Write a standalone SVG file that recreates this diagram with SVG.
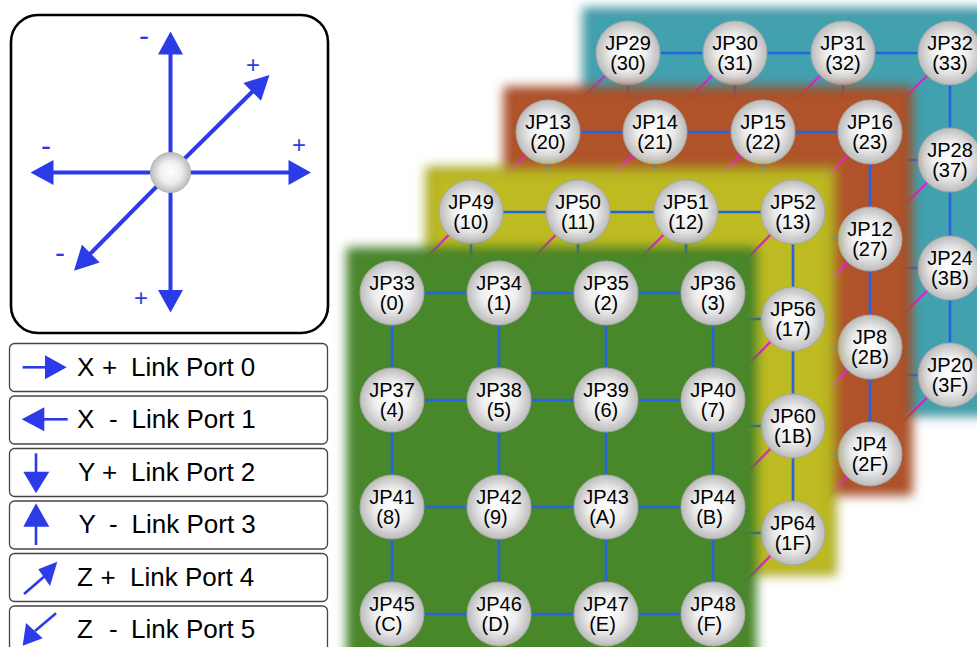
<svg xmlns="http://www.w3.org/2000/svg" width="977" height="647" viewBox="0 0 977 647">
  <defs>
    <style>
      .node circle { fill: url(#ball); stroke: #a9a9a9; stroke-width: 1; }
      .node text { font-family: "Liberation Sans", Arial, sans-serif; font-size: 20px; fill: #000; text-anchor: middle; }
      .grid { stroke: #2563df; stroke-width: 2.6; fill: none; }
      .zlink { stroke: #e41fd2; stroke-width: 2.2; fill: none; }
      .arr { stroke: #2b3be8; stroke-width: 4; fill: none; }
      .arr-small { stroke: #2b3be8; stroke-width: 2.6; fill: none; }
      .head { fill: #2b3be8; }
      .sign { font-family: "Liberation Sans", Arial, sans-serif; font-size: 24px; fill: #2b3be8; text-anchor: middle; }
      .sign.minus { font-size: 30px; }
      .key { fill: #fff; stroke: #444; stroke-width: 1.3; }
      .key-text { font-family: "Liberation Sans", Arial, sans-serif; font-size: 26px; fill: #000; }
      .plane { filter: url(#soft); stroke-width: 7; }
    </style>
    <radialGradient id="ball" cx="50%" cy="50%" r="50%" fx="50%" fy="47%">
      <stop offset="0" stop-color="#ffffff"/>
      <stop offset="0.55" stop-color="#eeeeee"/>
      <stop offset="1" stop-color="#bcbcbc"/>
    </radialGradient>
    <filter id="soft" x="-10%" y="-10%" width="120%" height="120%">
      <feGaussianBlur stdDeviation="5.5"/>
    </filter>
  </defs>

  <rect width="977" height="647" fill="#fff"/>

  <!-- axis compass -->
  <g id="compass">
    <rect x="11" y="15" width="317" height="318" rx="27" fill="#fff" stroke="#000" stroke-width="2.6"/>
    <line class="arr" x1="170.5" y1="172.5" x2="170.5" y2="52"/>
    <polygon class="head" points="170.5,31.5 158,54.5 183,54.5"/>
    <line class="arr" x1="170.5" y1="172.5" x2="290" y2="172.5"/>
    <polygon class="head" points="311,172.5 288.5,160 288.5,185"/>
    <line class="arr" x1="170.5" y1="172.5" x2="52" y2="172.5"/>
    <polygon class="head" points="30.5,172.5 53.5,160 53.5,185"/>
    <line class="arr" x1="170.5" y1="172.5" x2="170.5" y2="292"/>
    <polygon class="head" points="170.5,312.5 158,290 183,290"/>
    <line class="arr" x1="170.5" y1="172.5" x2="253" y2="91"/>
    <polygon class="head" points="269.5,75 243.4,82.9 261,100.7"/>
    <line class="arr" x1="170.5" y1="172.5" x2="90" y2="254"/>
    <polygon class="head" points="74,270.7 81.9,244.8 99.7,262.4"/>
    <circle cx="170.5" cy="172.5" r="20" fill="url(#ball)" stroke="#b5b5b5" stroke-width="1"/>
    <text class="sign minus" x="144" y="46">-</text>
    <text class="sign" x="253" y="72.5">+</text>
    <text class="sign" x="299" y="152.5">+</text>
    <text class="sign minus" x="46" y="156">-</text>
    <text class="sign minus" x="60" y="263">-</text>
    <text class="sign" x="141" y="305.5">+</text>
  </g>

  <!-- link port key -->
  <g id="key-port0">
    <rect class="key" x="9.5" y="343.5" width="318" height="48" rx="5"/>
    <line class="arr-small" x1="22.7" y1="367.3" x2="47" y2="367.3"/>
    <polygon class="head" points="66.7,367.3 45,355.3 45,379.3"/>
    <text class="key-text" y="375.8"><tspan x="77">X</tspan><tspan x="102">+</tspan><tspan x="131">Link Port 0</tspan></text>
  </g>
  <g id="key-port1">
    <rect class="key" x="9.5" y="396" width="318" height="48" rx="5"/>
    <polygon class="head" points="21.7,419.3 44.3,407.3 44.3,431.3"/>
    <line class="arr-small" x1="43" y1="419.3" x2="67.7" y2="419.3"/>
    <text class="key-text" y="428.3"><tspan x="77">X</tspan><tspan x="109">-</tspan><tspan x="131.5">Link Port 1</tspan></text>
  </g>
  <g id="key-port2">
    <rect class="key" x="9.5" y="448.5" width="318" height="48" rx="5"/>
    <line class="arr-small" x1="36" y1="453.3" x2="36" y2="474"/>
    <polygon class="head" points="36,493.3 23.3,471.7 49.3,471.7"/>
    <text class="key-text" y="480.8"><tspan x="78">Y</tspan><tspan x="102">+</tspan><tspan x="131">Link Port 2</tspan></text>
  </g>
  <g id="key-port3">
    <rect class="key" x="9.5" y="501" width="318" height="48" rx="5"/>
    <polygon class="head" points="36,503.3 23.3,526.7 49.3,526.7"/>
    <line class="arr-small" x1="36" y1="525" x2="36" y2="545"/>
    <text class="key-text" y="533.3"><tspan x="78.5">Y</tspan><tspan x="109">-</tspan><tspan x="131.5">Link Port 3</tspan></text>
  </g>
  <g id="key-port4">
    <rect class="key" x="9.5" y="553.5" width="318" height="48" rx="5"/>
    <line class="arr-small" x1="24" y1="594" x2="46" y2="575"/>
    <polygon class="head" points="57.3,561.7 38.3,569.3 50,586"/>
    <text class="key-text" y="585.8"><tspan x="77">Z</tspan><tspan x="100.5">+</tspan><tspan x="130">Link Port 4</tspan></text>
  </g>
  <g id="key-port5">
    <rect class="key" x="9.5" y="606" width="318" height="48" rx="5"/>
    <line class="arr-small" x1="56" y1="613.3" x2="35" y2="631"/>
    <polygon class="head" points="22.7,645.7 26,623 42.7,638.3"/>
    <text class="key-text" y="638.3"><tspan x="77">Z</tspan><tspan x="109">-</tspan><tspan x="131">Link Port 5</tspan></text>
  </g>

  <!-- plane z=3 (teal) -->
  <rect id="plane-teal" class="plane" x="586" y="11" width="410" height="402" fill="#43a1af" stroke="#3c93a0"/>
  <g id="connectors-teal">
    <path class="grid" d="M628 53H950M628 160H950M628 268H950M628 375H950M628 53V375M735 53V375M843 53V375M950 53V375"/>
    <path class="zlink" d="M548 132L628 53M655 132L735 53M763 132L843 53M870 132L950 53M870 239L950 160M870 347L950 268M870 454L950 375"/>
  </g>
  <g id="jp29" class="node"><circle cx="628" cy="53" r="32"/><text><tspan x="628" y="50">JP29</tspan><tspan x="628" y="70">(30)</tspan></text></g>
  <g id="jp30" class="node"><circle cx="735" cy="53" r="32"/><text><tspan x="735" y="50">JP30</tspan><tspan x="735" y="70">(31)</tspan></text></g>
  <g id="jp31" class="node"><circle cx="843" cy="53" r="32"/><text><tspan x="843" y="50">JP31</tspan><tspan x="843" y="70">(32)</tspan></text></g>
  <g id="jp32" class="node"><circle cx="950" cy="53" r="32"/><text><tspan x="950" y="50">JP32</tspan><tspan x="950" y="70">(33)</tspan></text></g>
  <g id="jp28" class="node"><circle cx="950" cy="160" r="32"/><text><tspan x="950" y="157">JP28</tspan><tspan x="950" y="177">(37)</tspan></text></g>
  <g id="jp24" class="node"><circle cx="950" cy="268" r="32"/><text><tspan x="950" y="265">JP24</tspan><tspan x="950" y="285">(3B)</tspan></text></g>
  <g id="jp20" class="node"><circle cx="950" cy="375" r="32"/><text><tspan x="950" y="372">JP20</tspan><tspan x="950" y="392">(3F)</tspan></text></g>

  <!-- plane z=2 (red) -->
  <rect id="plane-red" class="plane" x="507" y="90" width="402" height="402" fill="#b0522a" stroke="#a04822"/>
  <g id="connectors-red">
    <path class="grid" d="M548 132H870M548 239H870M548 347H870M548 454H870M548 132V454M655 132V454M763 132V454M870 132V454"/>
    <path class="zlink" d="M471 212L548 132M578 212L655 132M686 212L763 132M793 212L870 132M793 319L870 239M793 426L870 347M793 533L870 454"/>
  </g>
  <g id="jp13" class="node"><circle cx="548" cy="132" r="32"/><text><tspan x="548" y="129">JP13</tspan><tspan x="548" y="149">(20)</tspan></text></g>
  <g id="jp14" class="node"><circle cx="655" cy="132" r="32"/><text><tspan x="655" y="129">JP14</tspan><tspan x="655" y="149">(21)</tspan></text></g>
  <g id="jp15" class="node"><circle cx="763" cy="132" r="32"/><text><tspan x="763" y="129">JP15</tspan><tspan x="763" y="149">(22)</tspan></text></g>
  <g id="jp16" class="node"><circle cx="870" cy="132" r="32"/><text><tspan x="870" y="129">JP16</tspan><tspan x="870" y="149">(23)</tspan></text></g>
  <g id="jp12" class="node"><circle cx="870" cy="239" r="32"/><text><tspan x="870" y="236">JP12</tspan><tspan x="870" y="256">(27)</tspan></text></g>
  <g id="jp8" class="node"><circle cx="870" cy="347" r="32"/><text><tspan x="870" y="344">JP8</tspan><tspan x="870" y="364">(2B)</tspan></text></g>
  <g id="jp4" class="node"><circle cx="870" cy="454" r="32"/><text><tspan x="870" y="451">JP4</tspan><tspan x="870" y="471">(2F)</tspan></text></g>

  <!-- plane z=1 (yellow) -->
  <rect id="plane-yellow" class="plane" x="429" y="170" width="404" height="402" fill="#bdba22" stroke="#aaa71e"/>
  <g id="connectors-yellow">
    <path class="grid" d="M471 212H793M471 319H793M471 426H793M471 533H793M471 212V533M578 212V533M686 212V533M793 212V533"/>
    <path class="zlink" d="M392 293L471 212M499 293L578 212M606 293L686 212M713 293L793 212M713 400L793 319M713 507L793 426M713 614L793 533"/>
  </g>
  <g id="jp49" class="node"><circle cx="471" cy="212" r="32"/><text><tspan x="471" y="209">JP49</tspan><tspan x="471" y="229">(10)</tspan></text></g>
  <g id="jp50" class="node"><circle cx="578" cy="212" r="32"/><text><tspan x="578" y="209">JP50</tspan><tspan x="578" y="229">(11)</tspan></text></g>
  <g id="jp51" class="node"><circle cx="686" cy="212" r="32"/><text><tspan x="686" y="209">JP51</tspan><tspan x="686" y="229">(12)</tspan></text></g>
  <g id="jp52" class="node"><circle cx="793" cy="212" r="32"/><text><tspan x="793" y="209">JP52</tspan><tspan x="793" y="229">(13)</tspan></text></g>
  <g id="jp56" class="node"><circle cx="793" cy="319" r="32"/><text><tspan x="793" y="316">JP56</tspan><tspan x="793" y="336">(17)</tspan></text></g>
  <g id="jp60" class="node"><circle cx="793" cy="426" r="32"/><text><tspan x="793" y="423">JP60</tspan><tspan x="793" y="443">(1B)</tspan></text></g>
  <g id="jp64" class="node"><circle cx="793" cy="533" r="32"/><text><tspan x="793" y="530">JP64</tspan><tspan x="793" y="550">(1F)</tspan></text></g>

  <!-- plane z=0 (green) -->
  <rect id="plane-green" class="plane" x="350" y="251" width="403" height="410" fill="#4a882c" stroke="#407b26"/>
  <g id="connectors-green">
    <path class="grid" d="M392 293H713M392 400H713M392 507H713M392 614H713M392 293V614M499 293V614M606 293V614M713 293V614"/>
  </g>
  <g id="jp33" class="node"><circle cx="392" cy="293" r="32"/><text><tspan x="392" y="290">JP33</tspan><tspan x="392" y="310">(0)</tspan></text></g>
  <g id="jp34" class="node"><circle cx="499" cy="293" r="32"/><text><tspan x="499" y="290">JP34</tspan><tspan x="499" y="310">(1)</tspan></text></g>
  <g id="jp35" class="node"><circle cx="606" cy="293" r="32"/><text><tspan x="606" y="290">JP35</tspan><tspan x="606" y="310">(2)</tspan></text></g>
  <g id="jp36" class="node"><circle cx="713" cy="293" r="32"/><text><tspan x="713" y="290">JP36</tspan><tspan x="713" y="310">(3)</tspan></text></g>
  <g id="jp37" class="node"><circle cx="392" cy="400" r="32"/><text><tspan x="392" y="397">JP37</tspan><tspan x="392" y="417">(4)</tspan></text></g>
  <g id="jp38" class="node"><circle cx="499" cy="400" r="32"/><text><tspan x="499" y="397">JP38</tspan><tspan x="499" y="417">(5)</tspan></text></g>
  <g id="jp39" class="node"><circle cx="606" cy="400" r="32"/><text><tspan x="606" y="397">JP39</tspan><tspan x="606" y="417">(6)</tspan></text></g>
  <g id="jp40" class="node"><circle cx="713" cy="400" r="32"/><text><tspan x="713" y="397">JP40</tspan><tspan x="713" y="417">(7)</tspan></text></g>
  <g id="jp41" class="node"><circle cx="392" cy="507" r="32"/><text><tspan x="392" y="504">JP41</tspan><tspan x="388.5" y="524">(8)</tspan></text></g>
  <g id="jp42" class="node"><circle cx="499" cy="507" r="32"/><text><tspan x="499" y="504">JP42</tspan><tspan x="495.5" y="524">(9)</tspan></text></g>
  <g id="jp43" class="node"><circle cx="606" cy="507" r="32"/><text><tspan x="606" y="504">JP43</tspan><tspan x="602.5" y="524">(A)</tspan></text></g>
  <g id="jp44" class="node"><circle cx="713" cy="507" r="32"/><text><tspan x="713" y="504">JP44</tspan><tspan x="709.5" y="524">(B)</tspan></text></g>
  <g id="jp45" class="node"><circle cx="392" cy="614" r="32"/><text><tspan x="392" y="611">JP45</tspan><tspan x="388.5" y="631">(C)</tspan></text></g>
  <g id="jp46" class="node"><circle cx="499" cy="614" r="32"/><text><tspan x="499" y="611">JP46</tspan><tspan x="495.5" y="631">(D)</tspan></text></g>
  <g id="jp47" class="node"><circle cx="606" cy="614" r="32"/><text><tspan x="606" y="611">JP47</tspan><tspan x="602.5" y="631">(E)</tspan></text></g>
  <g id="jp48" class="node"><circle cx="713" cy="614" r="32"/><text><tspan x="713" y="611">JP48</tspan><tspan x="709.5" y="631">(F)</tspan></text></g>
</svg>
